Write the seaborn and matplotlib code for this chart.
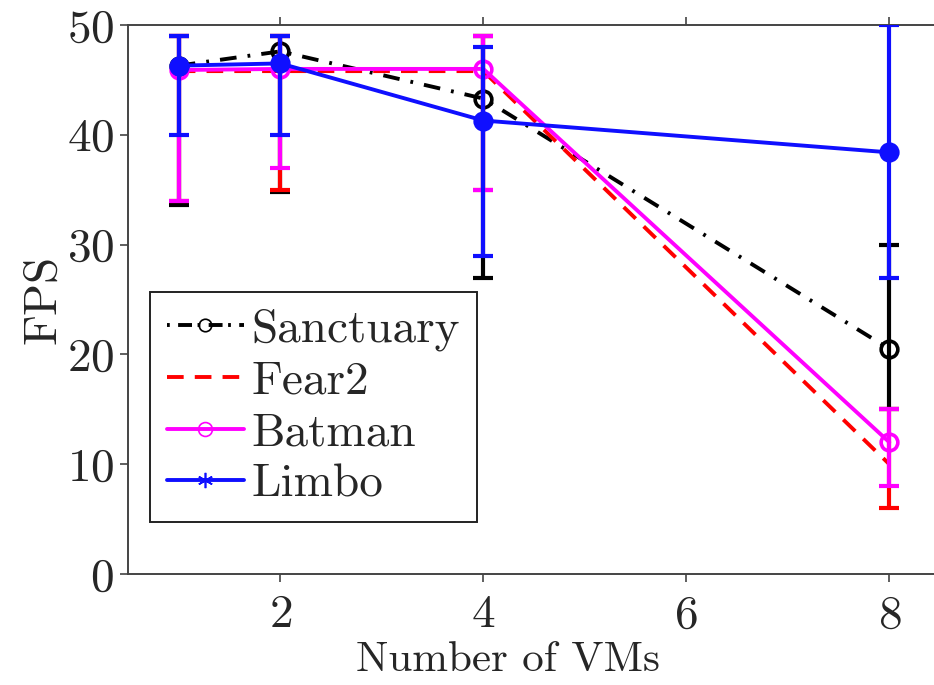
import matplotlib
matplotlib.use("Agg")
import matplotlib.pyplot as plt
from matplotlib.lines import Line2D
import seaborn as sns
import pandas as pd

# ---- data ----
vms = [1, 2, 4, 8]
sanctuary = [46.3, 47.6, 43.3, 20.5]
sanctuary_lo = [33.6, 34.8, 27.0, 15.0]
sanctuary_hi = [49.0, 49.0, 49.0, 30.0]
fear2 = [45.8, 45.8, 45.8, 10.0]
fear2_lo = [34.0, 35.0, 35.0, 6.0]
fear2_hi = [49.0, 49.0, 49.0, 15.0]
batman = [45.9, 46.0, 46.0, 12.0]
batman_lo = [34.0, 37.0, 35.0, 8.0]
batman_hi = [49.0, 49.0, 49.0, 15.0]
limbo = [46.3, 46.5, 41.3, 38.4]
limbo_lo = [40.0, 40.0, 29.0, 27.0]
limbo_hi = [49.0, 49.0, 48.0, 50.0]
series_names = ["Sanctuary", "Fear2", "Batman", "Limbo"]
x_ticks = [2, 4, 6, 8]
y_ticks = [0, 10, 20, 30, 40, 50]

sns.set_style("ticks")
plt.rcParams["font.family"] = ["cmr10", "DejaVu Serif"]
plt.rcParams["mathtext.fontset"] = "cm"
plt.rcParams["axes.formatter.use_mathtext"] = True
plt.rcParams["lines.scale_dashes"] = False

fig = plt.figure(figsize=(9.34, 6.85), dpi=100)
ax = fig.add_axes([128 / 934, 1 - 574 / 685, 1 - 128 / 934, (574 - 25) / 685])

styles = {
    "Sanctuary": dict(color="black", ls=(0, (12, 8, 2, 8)), marker="o", mfc="none", mec="black"),
    "Fear2": dict(color="#ff0000", ls=(0, (12, 8)), marker=None, mfc="none", mec="#ff0000"),
    "Batman": dict(color="#ff00ff", ls="-", marker="o", mfc="none", mec="#ff00ff"),
    "Limbo": dict(color="#0f0fff", ls="-", marker="o", mfc="#0f0fff", mec="#0f0fff"),
}
vals = {"Sanctuary": (sanctuary, sanctuary_lo, sanctuary_hi),
        "Fear2": (fear2, fear2_lo, fear2_hi),
        "Batman": (batman, batman_lo, batman_hi),
        "Limbo": (limbo, limbo_lo, limbo_hi)}

for i, name in enumerate(series_names):
    y, lo, hi = vals[name]
    st = styles[name]
    df = pd.DataFrame({"vms": vms, "fps": y})
    z = 3 + i * 2
    ax.errorbar(vms, y, yerr=[[a - b for a, b in zip(y, lo)], [b - a for a, b in zip(y, hi)]],
                fmt="none", ecolor=st["color"], elinewidth=3, capsize=7, capthick=3, zorder=z)
    sns.lineplot(data=df, x="vms", y="fps", ax=ax, color=st["color"], linestyle=st["ls"],
                 linewidth=2.8, marker=st["marker"], markersize=12, markeredgewidth=2.6,
                 markerfacecolor=st["mfc"], markeredgecolor=st["mec"], zorder=z + 1,
                 errorbar=None, legend=False)

ax.set_xlim(0.5, 8.44)
ax.set_ylim(0, 50)
ax.set_xticks(x_ticks)
ax.set_yticks(y_ticks)
ax.set_xlabel("Number of VMs", fontsize=31)
ax.xaxis.set_label_coords(0.471, -0.157)
ax.xaxis.label.set_va("center")
ax.set_ylabel("FPS", fontsize=34, labelpad=2)
ax.tick_params(axis="both", labelsize=34, direction="out", length=6, width=1.2, color="#444444")
ax.tick_params(axis="x", top=True, pad=9)
ax.tick_params(axis="y", pad=4)
ax.spines["right"].set_visible(False)
for s in ["left", "bottom", "top"]:
    ax.spines[s].set_color("#444444")
    ax.spines[s].set_linewidth(1.4)

handles = [
    Line2D([], [], color="black", ls=(0, (2, 6, 10, 4)), lw=2.8, marker="o", ms=9,
           mfc="none", mec="black", mew=1.2),
    Line2D([], [], color="#ff0000", ls=(0, (12, 8)), lw=2.8),
    Line2D([], [], color="#ff00ff", ls="-", lw=2.8, marker="o", ms=10, mfc="none", mew=1.2),
    Line2D([], [], color="#0f0fff", ls="-", lw=2.8, marker=(6, 2, 0), ms=11, mew=1.2),
]
leg = ax.legend(handles, series_names, loc="upper left",
                bbox_to_anchor=(150 / 934, 1 - 292 / 685), bbox_transform=fig.transFigure,
                fontsize=34, frameon=True, fancybox=False, borderaxespad=0,
                handlelength=1.65, handletextpad=0.15, labelspacing=0.2, borderpad=0.35)
leg.get_frame().set_edgecolor("#222222")
leg.get_frame().set_linewidth(1.4)
leg.get_frame().set_alpha(1)

fig.savefig("out.png", dpi=100)
